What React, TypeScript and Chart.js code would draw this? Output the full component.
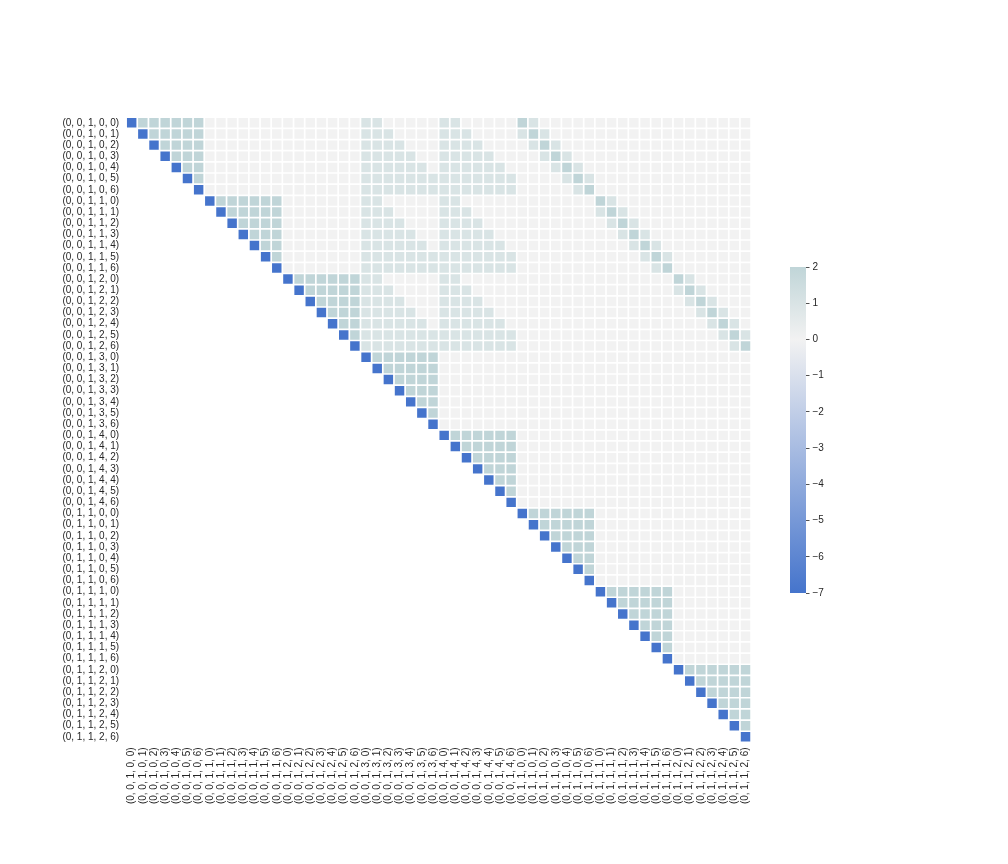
import React, { useEffect, useRef } from "react";
import { Chart, registerables } from "chart.js";

Chart.register(...registerables);

// Axis labels (rows and columns share the same labels)
const LABELS: string[] = [
  "(0, 0, 1, 0, 0)", "(0, 0, 1, 0, 1)", "(0, 0, 1, 0, 2)", "(0, 0, 1, 0, 3)", "(0, 0, 1, 0, 4)", "(0, 0, 1, 0, 5)", "(0, 0, 1, 0, 6)",
  "(0, 0, 1, 1, 0)", "(0, 0, 1, 1, 1)", "(0, 0, 1, 1, 2)", "(0, 0, 1, 1, 3)", "(0, 0, 1, 1, 4)", "(0, 0, 1, 1, 5)", "(0, 0, 1, 1, 6)",
  "(0, 0, 1, 2, 0)", "(0, 0, 1, 2, 1)", "(0, 0, 1, 2, 2)", "(0, 0, 1, 2, 3)", "(0, 0, 1, 2, 4)", "(0, 0, 1, 2, 5)", "(0, 0, 1, 2, 6)",
  "(0, 0, 1, 3, 0)", "(0, 0, 1, 3, 1)", "(0, 0, 1, 3, 2)", "(0, 0, 1, 3, 3)", "(0, 0, 1, 3, 4)", "(0, 0, 1, 3, 5)", "(0, 0, 1, 3, 6)",
  "(0, 0, 1, 4, 0)", "(0, 0, 1, 4, 1)", "(0, 0, 1, 4, 2)", "(0, 0, 1, 4, 3)", "(0, 0, 1, 4, 4)", "(0, 0, 1, 4, 5)", "(0, 0, 1, 4, 6)",
  "(0, 1, 1, 0, 0)", "(0, 1, 1, 0, 1)", "(0, 1, 1, 0, 2)", "(0, 1, 1, 0, 3)", "(0, 1, 1, 0, 4)", "(0, 1, 1, 0, 5)", "(0, 1, 1, 0, 6)",
  "(0, 1, 1, 1, 0)", "(0, 1, 1, 1, 1)", "(0, 1, 1, 1, 2)", "(0, 1, 1, 1, 3)", "(0, 1, 1, 1, 4)", "(0, 1, 1, 1, 5)", "(0, 1, 1, 1, 6)",
  "(0, 1, 1, 2, 0)", "(0, 1, 1, 2, 1)", "(0, 1, 1, 2, 2)", "(0, 1, 1, 2, 3)", "(0, 1, 1, 2, 4)", "(0, 1, 1, 2, 5)", "(0, 1, 1, 2, 6)",
];

// Cell codes: "." masked (lower triangle), "D" = -7, digits = value
const CELL_CODES: Record<string, number> = { D: -7, "0": 0, "1": 1, "2": 2 };

// Matrix rows (spaces only separate blocks of 7)
const MATRIX_ROWS: string[] = [
  "D222222 0000000 0000000 1100000 1100000 2100000 0000000 0000000",
  ".D22222 0000000 0000000 1110000 1110000 1210000 0000000 0000000",
  "..D2222 0000000 0000000 1111000 1111000 0121000 0000000 0000000",
  "...D222 0000000 0000000 1111100 1111100 0012100 0000000 0000000",
  "....D22 0000000 0000000 1111110 1111110 0001210 0000000 0000000",
  ".....D2 0000000 0000000 1111111 1111111 0000121 0000000 0000000",
  "......D 0000000 0000000 1111111 1111111 0000012 0000000 0000000",

  "....... D222222 0000000 1100000 1100000 0000000 2100000 0000000",
  "....... .D22222 0000000 1110000 1110000 0000000 1210000 0000000",
  "....... ..D2222 0000000 1111000 1111000 0000000 0121000 0000000",
  "....... ...D222 0000000 1111100 1111100 0000000 0012100 0000000",
  "....... ....D22 0000000 1111110 1111110 0000000 0001210 0000000",
  "....... .....D2 0000000 1111111 1111111 0000000 0000121 0000000",
  "....... ......D 0000000 1111111 1111111 0000000 0000012 0000000",

  "....... ....... D222222 1100000 1100000 0000000 0000000 2100000",
  "....... ....... .D22222 1110000 1110000 0000000 0000000 1210000",
  "....... ....... ..D2222 1111000 1111000 0000000 0000000 0121000",
  "....... ....... ...D222 1111100 1111100 0000000 0000000 0012100",
  "....... ....... ....D22 1111110 1111110 0000000 0000000 0001210",
  "....... ....... .....D2 1111111 1111111 0000000 0000000 0000121",
  "....... ....... ......D 1111111 1111111 0000000 0000000 0000012",

  "....... ....... ....... D222222 0000000 0000000 0000000 0000000",
  "....... ....... ....... .D22222 0000000 0000000 0000000 0000000",
  "....... ....... ....... ..D2222 0000000 0000000 0000000 0000000",
  "....... ....... ....... ...D222 0000000 0000000 0000000 0000000",
  "....... ....... ....... ....D22 0000000 0000000 0000000 0000000",
  "....... ....... ....... .....D2 0000000 0000000 0000000 0000000",
  "....... ....... ....... ......D 0000000 0000000 0000000 0000000",

  "....... ....... ....... ....... D222222 0000000 0000000 0000000",
  "....... ....... ....... ....... .D22222 0000000 0000000 0000000",
  "....... ....... ....... ....... ..D2222 0000000 0000000 0000000",
  "....... ....... ....... ....... ...D222 0000000 0000000 0000000",
  "....... ....... ....... ....... ....D22 0000000 0000000 0000000",
  "....... ....... ....... ....... .....D2 0000000 0000000 0000000",
  "....... ....... ....... ....... ......D 0000000 0000000 0000000",

  "....... ....... ....... ....... ....... D222222 0000000 0000000",
  "....... ....... ....... ....... ....... .D22222 0000000 0000000",
  "....... ....... ....... ....... ....... ..D2222 0000000 0000000",
  "....... ....... ....... ....... ....... ...D222 0000000 0000000",
  "....... ....... ....... ....... ....... ....D22 0000000 0000000",
  "....... ....... ....... ....... ....... .....D2 0000000 0000000",
  "....... ....... ....... ....... ....... ......D 0000000 0000000",

  "....... ....... ....... ....... ....... ....... D222222 0000000",
  "....... ....... ....... ....... ....... ....... .D22222 0000000",
  "....... ....... ....... ....... ....... ....... ..D2222 0000000",
  "....... ....... ....... ....... ....... ....... ...D222 0000000",
  "....... ....... ....... ....... ....... ....... ....D22 0000000",
  "....... ....... ....... ....... ....... ....... .....D2 0000000",
  "....... ....... ....... ....... ....... ....... ......D 0000000",

  "....... ....... ....... ....... ....... ....... ....... D222222",
  "....... ....... ....... ....... ....... ....... ....... .D22222",
  "....... ....... ....... ....... ....... ....... ....... ..D2222",
  "....... ....... ....... ....... ....... ....... ....... ...D222",
  "....... ....... ....... ....... ....... ....... ....... ....D22",
  "....... ....... ....... ....... ....... ....... ....... .....D2",
  "....... ....... ....... ....... ....... ....... ....... ......D",
];

// Colour bar range
const CB_MIN = -7;
const CB_MAX = 2;

// Styles
const NEG_RGB = [69, 116, 204];
const MID_RGB = [242, 242, 242];
const POS_RGB_AT_MAX = [192, 213, 216];
const TEXT_COLOR = "#262626";
const FONT = { family: "'Liberation Sans', Arial, sans-serif", size: 10 };

function mix(a: number[], b: number[], t: number): string {
  const c = a.map((v, i) => Math.round(v + (b[i] - v) * t));
  return `rgb(${c[0]},${c[1]},${c[2]})`;
}

function cmap(v: number): string {
  if (v <= 0) return mix(MID_RGB, NEG_RGB, Math.min(1, v / CB_MIN));
  return mix(MID_RGB, POS_RGB_AT_MAX, Math.min(1, v / CB_MAX));
}

const MATRIX: (number | null)[][] = MATRIX_ROWS.map((s) =>
  s.replace(/ /g, "").split("").map((ch) => (ch === "." ? null : CELL_CODES[ch]))
);

export default function App() {
  const mainRef = useRef<HTMLCanvasElement | null>(null);
  const cbRef = useRef<HTMLCanvasElement | null>(null);

  useEffect(() => {
    if (!mainRef.current || !cbRef.current) return;

    const datasets = MATRIX.map((row, r) => ({
      label: LABELS[r],
      data: row.map((v) => (v === null ? null : [r, r + 1])),
      backgroundColor: row.map((v) => (v === null ? "rgba(0,0,0,0)" : cmap(v))),
      borderColor: "#ffffff",
      borderWidth: 0.85,
      borderSkipped: false,
      inflateAmount: 0,
      grouped: false,
      barPercentage: 1,
      categoryPercentage: 1,
    }));

    const main = new Chart(mainRef.current, {
      type: "bar",
      data: { labels: LABELS, datasets: datasets as any },
      options: {
        responsive: false,
        maintainAspectRatio: false,
        animation: false,
        events: [],
        layout: { padding: { top: 117.2, right: 256.9, bottom: 0, left: 0 } },
        plugins: { legend: { display: false }, tooltip: { enabled: false } },
        scales: {
          x: {
            type: "category",
            position: "bottom",
            grid: { display: false, drawTicks: false },
            border: { display: false },
            ticks: {
              autoSkip: false,
              minRotation: 90,
              maxRotation: 90,
              padding: 5,
              font: FONT,
              color: TEXT_COLOR,
            },
            afterFit: (s: any) => {
              s.height = 121.6;
            },
          },
          y: {
            type: "linear",
            display: false,
            min: 0,
            max: LABELS.length,
            reverse: true,
          },
          yl: {
            type: "category",
            labels: LABELS,
            position: "left",
            offset: true,
            grid: { display: false, drawTicks: false },
            border: { display: false },
            ticks: { autoSkip: false, padding: 7, font: FONT, color: TEXT_COLOR },
            afterFit: (s: any) => {
              s.width = 126.1;
            },
          },
        } as any,
      },
    });

    const cb = new Chart(cbRef.current, {
      type: "bar",
      data: {
        labels: [""],
        datasets: [
          {
            data: [[CB_MIN, CB_MAX]] as any,
            backgroundColor: (ctx: any) => {
              const chart = ctx.chart;
              const ys = chart.scales && chart.scales.y;
              if (!chart.chartArea || !ys) return cmap(0);
              const y0 = ys.getPixelForValue(CB_MIN);
              const y1 = ys.getPixelForValue(CB_MAX);
              const g = chart.ctx.createLinearGradient(0, y0, 0, y1);
              g.addColorStop(0, cmap(CB_MIN));
              g.addColorStop((0 - CB_MIN) / (CB_MAX - CB_MIN), cmap(0));
              g.addColorStop(1, cmap(CB_MAX));
              return g;
            },
            borderWidth: 0,
            inflateAmount: 0,
            barPercentage: 1,
            categoryPercentage: 1,
          } as any,
        ],
      },
      options: {
        responsive: false,
        maintainAspectRatio: false,
        animation: false,
        events: [],
        layout: { padding: { left: 20, top: 17, bottom: 17, right: 0 } },
        plugins: { legend: { display: false }, tooltip: { enabled: false } },
        scales: {
          x: { display: false },
          y: {
            position: "right",
            min: CB_MIN,
            max: CB_MAX,
            ticks: {
              stepSize: 1,
              padding: 3,
              font: FONT,
              color: TEXT_COLOR,
              callback: (v: any) => String(v).replace("-", "\u2212"),
            },
            grid: {
              drawOnChartArea: false,
              drawTicks: true,
              tickLength: 3.5,
              tickColor: TEXT_COLOR,
              tickWidth: 0.8,
            },
            border: { display: false },
            afterFit: (s: any) => {
              s.width = 44;
            },
          },
        } as any,
      },
    });

    return () => {
      main.destroy();
      cb.destroy();
    };
  }, []);

  return (
    <div style={{ position: "fixed", left: 0, top: 0, width: 1008, height: 864, background: "#fff" }}>
      <canvas ref={mainRef} width={1008} height={864} style={{ position: "absolute", left: 0, top: 0 }} />
      <canvas ref={cbRef} width={80} height={360} style={{ position: "absolute", left: 770, top: 250 }} />
    </div>
  );
}
